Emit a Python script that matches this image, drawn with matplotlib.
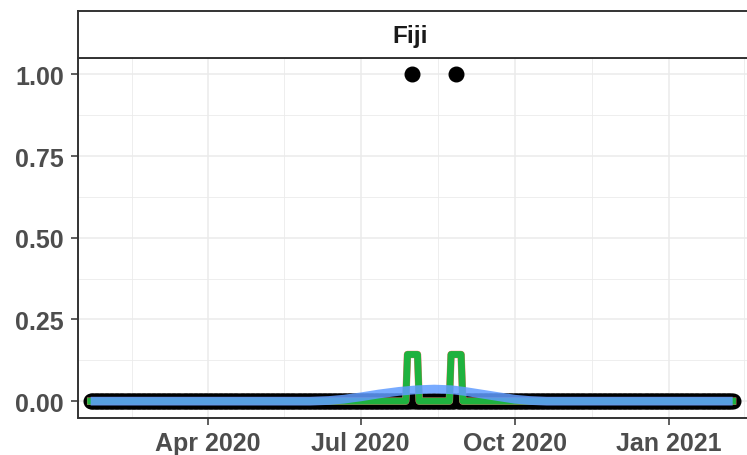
import numpy as np
import pandas as pd
import matplotlib
matplotlib.use('Agg')
import matplotlib.pyplot as plt

# daily new cases, Fiji
start = '2020-01-22'
end = '2021-02-08'
case_dates = ['2020-08-01', '2020-08-27']
case_values = [1.0, 1.0]

# loess-like smooth
smooth_dates = ['2020-01-22', '2020-06-01', '2020-06-12', '2020-06-21', '2020-07-01',
                '2020-07-12', '2020-07-24', '2020-08-04', '2020-08-14', '2020-08-24',
                '2020-09-01', '2020-09-11', '2020-09-21', '2020-10-01', '2020-10-10',
                '2020-10-20', '2021-02-08']
smooth_values = [0.0, 0.0, 0.002, 0.006, 0.013,
                 0.022, 0.030, 0.035, 0.037, 0.035,
                 0.030, 0.022, 0.014, 0.006, 0.002,
                 0.0, 0.0]

days = pd.date_range(start, end, freq='D')
cases = pd.Series(0.0, index=days)
cases[pd.to_datetime(case_dates)] = case_values
# centred 7-day average
avg = cases.rolling(7, center=True, min_periods=1).mean()

plt.rcParams['font.family'] = ['Liberation Sans', 'DejaVu Sans']
plt.rcParams['font.weight'] = 'bold'

fig = plt.figure(figsize=(7.47, 4.56), dpi=100)
W, H = 747, 456
ax = fig.add_axes([78 / W, 1 - 418.5 / H, (750 - 78) / W, (418.5 - 59) / H])
strip = fig.add_axes([78 / W, 1 - 59 / H, (750 - 78) / W, 47 / H])

ax.plot(days, cases.values, 'o', color='black', ms=10.5, zorder=3)
ax.plot(days, avg.values, color='#F8766D', lw=5.3, zorder=4, solid_joinstyle='round')
ax.plot(days, avg.values, color='#1FB23E', lw=4.9, zorder=5, solid_joinstyle='round')
ax.plot(pd.to_datetime(smooth_dates), smooth_values, color='#619CFF', lw=6.3,
        alpha=0.85, zorder=6, solid_capstyle='butt')

ax.set_ylim(-0.05, 1.05)
ax.set_xlim(pd.Timestamp('2020-01-14 11:00'), pd.Timestamp('2021-02-18 08:00'))
ax.set_yticks([0, 0.25, 0.5, 0.75, 1.0])
ax.set_yticklabels(['0.00', '0.25', '0.50', '0.75', '1.00'])
ax.set_yticks([0.125, 0.375, 0.625, 0.875], minor=True)
majors = pd.to_datetime(['2020-04-01', '2020-07-01', '2020-10-01', '2021-01-01'])
ax.set_xticks(majors)
ax.set_xticklabels(['Apr 2020', 'Jul 2020', 'Oct 2020', 'Jan 2021'])
minors = pd.to_datetime(['2020-02-15 12:00', '2020-05-16 12:00', '2020-08-16 00:00',
                         '2020-11-16 00:00', '2021-02-15 00:00'])
ax.set_xticks(minors, minor=True)

ax.grid(True, which='major', color='#EBEBEB', lw=1.1, zorder=0)
ax.grid(True, which='minor', color='#EBEBEB', lw=0.6, zorder=0)
ax.set_axisbelow(True)
ax.tick_params(which='major', length=5, width=1.1, color='#333333',
               labelcolor='#4D4D4D', labelsize=18, pad=5)
ax.tick_params(which='minor', length=0)
for s in ax.spines.values():
    s.set_color('#333333')
    s.set_linewidth(1.4)
ax.spines['right'].set_visible(False)

strip.set_xticks([])
strip.set_yticks([])
for s in strip.spines.values():
    s.set_color('#333333')
    s.set_linewidth(1.4)
strip.spines['right'].set_visible(False)
strip.text((410 - 78) / (750 - 78), 0.48, 'Fiji', transform=strip.transAxes,
           ha='center', va='center', fontsize=17.5, fontweight='bold', color='#1A1A1A')

fig.savefig('out.png', dpi=100)
